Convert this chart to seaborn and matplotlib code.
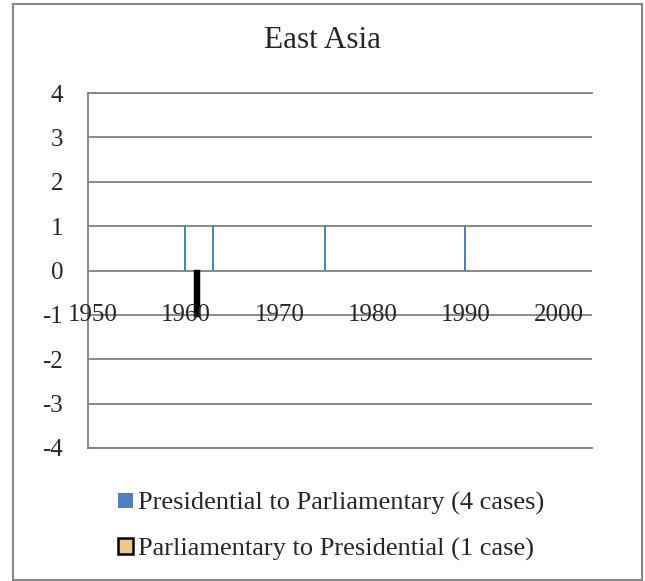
import matplotlib
matplotlib.use("Agg")
import matplotlib.pyplot as plt
import seaborn as sns
import pandas as pd
from matplotlib.patches import Rectangle

# ---- data ----
years = list(range(1950, 2004))
pres_to_parl_years = [1960, 1963, 1975, 1990]
pres_to_parl_values = [1, 1, 1, 1]
parl_to_pres_years = [1961]
parl_to_pres_values = [-1]
series_names = ["Presidential to Parliamentary (4 cases)",
                "Parliamentary to Presidential (1 case)"]
xtick_years = [1950, 1960, 1970, 1980, 1990, 2000]
yticks = [-4, -3, -2, -1, 0, 1, 2, 3, 4]
title = "East Asia"

df = pd.DataFrame({
    "year": pres_to_parl_years + parl_to_pres_years,
    "value": pres_to_parl_values + parl_to_pres_values,
    "series": [series_names[0]] * len(pres_to_parl_years)
              + [series_names[1]] * len(parl_to_pres_years),
})

sns.set_style("white")
plt.rcParams["font.family"] = ["Liberation Serif", "DejaVu Serif"]

fig = plt.figure(figsize=(6.45, 5.81), dpi=100)
ax = fig.add_axes([88 / 645, 1 - 448 / 581, (592 - 88) / 645, (448 - 93) / 581])

sns.barplot(data=df, x="year", y="value", hue="series", order=years,
            hue_order=series_names, palette=["#4F81BD", "#EBC98F"],
            width=0.5, dodge=True, ax=ax, errorbar=None, saturation=1)

for bar in ax.containers[0]:
    bar.set_edgecolor("none")
for bar in ax.containers[1]:
    bar.set_edgecolor("black")
    bar.set_linewidth(2.5)

ax.set_ylim(-4, 4)
ax.set_xlim(-0.5, len(years) - 0.5)
ax.set_yticks(yticks)
ax.set_yticklabels([str(v) for v in yticks], fontsize=18)
ax.set_xticks([])
ax.set_xlabel("")
ax.set_ylabel("")
ax.tick_params(axis="y", length=0, pad=18)
ax.grid(axis="y", color="#808080", linewidth=1.3)
ax.set_axisbelow(True)
for side in ["top", "bottom", "left"]:
    ax.spines[side].set_visible(True)
    ax.spines[side].set_color("#808080")
    ax.spines[side].set_linewidth(1.3)
ax.spines["right"].set_visible(False)

for y in xtick_years:
    ax.text(years.index(y), -1, str(y), ha="center", va="center",
            fontsize=18, zorder=5)

fig.text(0.5, 1 - 41 / 581, title, ha="center", va="center", fontsize=22.5)

handles, labels = ax.get_legend_handles_labels()
leg = ax.legend(handles, labels, loc="upper left",
                bbox_to_anchor=(105 / 645, 1 - 479 / 581),
                bbox_transform=fig.transFigure, frameon=False, fontsize=19,
                handlelength=0.55, handleheight=0.55, handletextpad=0.2,
                labelspacing=0.86, borderpad=0)
lh = leg.legend_handles
lh[0].set_edgecolor("none")
lh[1].set_edgecolor("black")
lh[1].set_linewidth(1.8)

fig.patches.append(Rectangle((13 / 645, 1 - 580 / 581), (642 - 13) / 645,
                             (580 - 4) / 581, transform=fig.transFigure,
                             fill=False, edgecolor="#878787", linewidth=1.5))

fig.savefig("out.png", dpi=100)
